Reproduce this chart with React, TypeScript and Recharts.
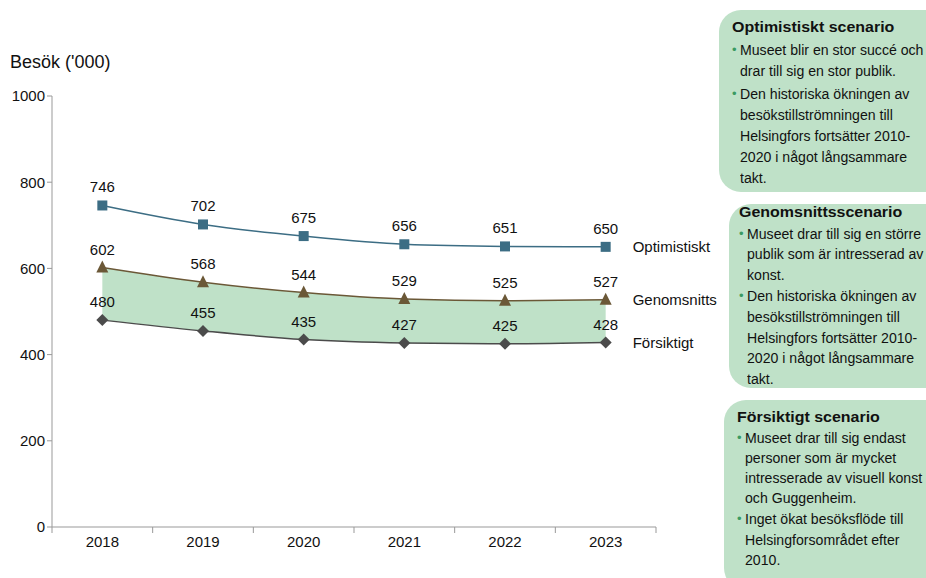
import React from 'react';
import { Area, ComposedChart, LabelList, Line, XAxis, YAxis } from 'recharts';

const years = ['2018', '2019', '2020', '2021', '2022', '2023'];
const optimistic = [746, 702, 675, 656, 651, 650];
const average = [602, 568, 544, 529, 525, 527];
const cautious = [480, 455, 435, 427, 425, 428];
const yTicks = [0, 200, 400, 600, 800, 1000];
const xBounds = [-0.5, 0.5, 1.5, 2.5, 3.5, 4.5, 5.5];

const seriesNames = { opt: 'Optimistiskt', avg: 'Genomsnitts', low: 'Försiktigt' };

// text of the scenario boxes, one string per printed line
const boxTitles = ['Optimistiskt scenario', 'Genomsnittsscenario', 'Försiktigt scenario'];
const boxBullets = [
  [
    ['Museet blir en stor succé och', 'drar till sig en stor publik.'],
    ['Den historiska ökningen av', 'besökstillströmningen till', 'Helsingfors fortsätter 2010-', '2020 i något långsammare', 'takt.'],
  ],
  [
    ['Museet drar till sig en större', 'publik som är intresserad av', 'konst.'],
    ['Den historiska ökningen av', 'besökstillströmningen till', 'Helsingfors fortsätter 2010-', '2020 i något långsammare', 'takt.'],
  ],
  [
    ['Museet drar till sig endast', 'personer som är mycket', 'intresserade av visuell konst', 'och Guggenheim.'],
    ['Inget ökat besöksflöde till', 'Helsingforsområdet efter', '2010.'],
  ],
];

const data = years.map((y, i) => ({
  x: i,
  year: y,
  opt: optimistic[i],
  avg: average[i],
  low: cautious[i],
  band: [cautious[i], average[i]],
}));

const FONT = '"Liberation Sans", Arial, sans-serif';
const W = 926;
const H = 578;
const M = { top: 96, right: 270, left: 0, bottom: 0 };
const Y_W = 52;
const STEP = (W - M.right - Y_W) / years.length;

const BLUE = '#3c6d84';
const BROWN = '#6b5837';
const GREY = '#4b4b4b';
const GREEN = '#bfe1c8';

const Square = (p: any) => (
  <rect key={`s${p.index}`} x={p.cx - 5} y={p.cy - 5} width={10} height={10} fill={BLUE} />
);
const Triangle = (p: any) => (
  <polygon
    key={`t${p.index}`}
    points={`${p.cx},${p.cy - 7} ${p.cx - 6},${p.cy + 5} ${p.cx + 6},${p.cy + 5}`}
    fill={BROWN}
  />
);
const Diamond = (p: any) => (
  <polygon
    key={`d${p.index}`}
    points={`${p.cx},${p.cy - 6} ${p.cx + 6},${p.cy} ${p.cx},${p.cy + 6} ${p.cx - 6},${p.cy}`}
    fill={GREY}
  />
);

const XTick = (p: any) => {
  const idx = Math.round(p.payload.value + 0.5);
  if (idx >= years.length) return null;
  return (
    <text x={p.x + STEP / 2} y={p.y + 12} textAnchor="middle" fontSize={15} fill="#111" fontFamily={FONT}>
      {years[idx]}
    </text>
  );
};

const endLabel = (name: string) => (p: any) => {
  if (p.index !== years.length - 1) return null;
  return (
    <text x={p.x + 27} y={p.y} dy={5} fontSize={15} fill="#111" fontFamily={FONT}>
      {name}
    </text>
  );
};

const valueLabel = { position: 'top' as const, offset: 13, fontSize: 15, fill: '#111', fontFamily: FONT };

function Box({ n, top, left, height, pad, textLeft, lh, gap }: { n: number; top: number; left: number; height: number; pad: number; textLeft: number; lh: number; gap: number }) {
  return (
    <div
      style={{
        position: 'absolute',
        top,
        left,
        width: W - left + 30,
        height,
        background: GREEN,
        borderRadius: '22px 0 0 22px',
      }}
    >
      <div
        style={{
          position: 'absolute',
          top: pad,
          left: textLeft,
          fontFamily: FONT,
          color: '#111',
          whiteSpace: 'nowrap',
        }}
      >
        <div style={{ fontWeight: 'bold', fontSize: 15.5, lineHeight: `${lh}px`, transform: 'scaleX(1.03)', transformOrigin: 'left' }}>
          {boxTitles[n]}
        </div>
        {boxBullets[n].map((lines, bi) => (
          <div key={bi} style={{ position: 'relative', paddingLeft: 8, marginTop: gap }}>
            <span style={{ position: 'absolute', left: 0, top: 0, color: '#3a9a62', fontSize: 13, lineHeight: `${lh}px` }}>•</span>
            {lines.map((l) => (
              <div
                key={l}
                style={{ fontSize: 15.5, lineHeight: `${lh}px`, transform: 'scaleX(0.91)', transformOrigin: 'left' }}
              >
                {l}
              </div>
            ))}
          </div>
        ))}
      </div>
    </div>
  );
}

export default function App() {
  return (
    <div style={{ position: 'absolute', left: 0, top: 0, width: W, height: H, background: '#fff', overflow: 'hidden' }}>
      <div style={{ position: 'absolute', left: 10, top: 52, fontFamily: FONT, fontSize: 18, color: '#111' }}>
        Besök ('000)
      </div>
      <ComposedChart width={W} height={H} data={data} margin={M}>
        <XAxis
          dataKey="x"
          type="number"
          domain={[-0.5, 5.5]}
          ticks={xBounds}
          interval={0}
          height={51}
          stroke="#999"
          tickSize={6}
          tick={<XTick />}
        />
        <YAxis
          domain={[0, 1000]}
          ticks={yTicks}
          width={Y_W}
          stroke="#999"
          tickSize={5}
          tick={{ fontSize: 15, fill: '#111', fontFamily: FONT }}
        />
        <Area dataKey="band" type="monotone" fill={GREEN} fillOpacity={1} stroke="none" isAnimationActive={false} />
        <Line dataKey="opt" type="monotone" stroke={BLUE} strokeWidth={1.5} dot={Square} activeDot={false} isAnimationActive={false}>
          <LabelList dataKey="opt" {...valueLabel} />
          <LabelList dataKey="opt" content={endLabel(seriesNames.opt)} />
        </Line>
        <Line dataKey="avg" type="monotone" stroke={BROWN} strokeWidth={1.5} dot={Triangle} activeDot={false} isAnimationActive={false}>
          <LabelList dataKey="avg" {...valueLabel} />
          <LabelList dataKey="avg" content={endLabel(seriesNames.avg)} />
        </Line>
        <Line dataKey="low" type="monotone" stroke={GREY} strokeWidth={1.5} dot={Diamond} activeDot={false} isAnimationActive={false}>
          <LabelList dataKey="low" {...valueLabel} />
          <LabelList dataKey="low" content={endLabel(seriesNames.low)} />
        </Line>
      </ComposedChart>
      <Box n={0} top={10} left={719} height={182} pad={6} textLeft={13} lh={21} gap={2} />
      <Box n={1} top={204} left={729} height={184} pad={-2} textLeft={10} lh={20.6} gap={1} />
      <Box n={2} top={400} left={724} height={190} pad={7} textLeft={13} lh={20.1} gap={1} />
    </div>
  );
}
